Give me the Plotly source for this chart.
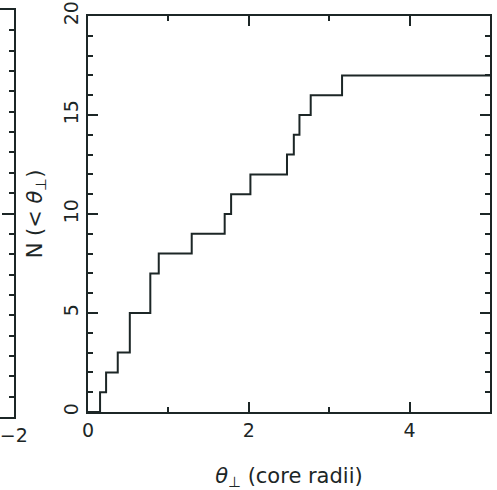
import plotly.graph_objects as go

# cumulative number of objects vs perpendicular separation (core radii)
theta = [0, 0.15, 0.225, 0.37, 0.52, 0.775, 0.88, 1.29, 1.70, 1.78, 2.02,
         2.475, 2.56, 2.63, 2.77, 3.16, 5.0]
count = [0, 1, 2, 3, 5, 7, 8, 9, 10, 11, 12, 13, 14, 15, 16, 17, 17]

x_ticks = [0, 2, 4]
y_ticks = [0, 5, 10, 15, 20]
left_x_ticks = [-2]

W, H = 497, 490
ink = "#1c2626"
font_family = "DejaVu Sans, Liberation Sans, sans-serif"

fig = go.Figure()
fig.add_trace(go.Scatter(x=theta, y=count, mode="lines", line_shape="hv",
                         line=dict(color=ink, width=2), showlegend=False,
                         xaxis="x", yaxis="y", cliponaxis=True))
# partial neighbouring panel (only its right edge is visible)
fig.add_trace(go.Scatter(x=[None], y=[None], xaxis="x2", yaxis="y2",
                         showlegend=False))

def px_x(a, b):
    return [a / W, b / W]

def px_y(top, bottom):
    return [(H - bottom) / H, (H - top) / H]

fig.update_layout(
    width=W, height=H, template="none",
    margin=dict(l=0, r=0, t=0, b=0),
    paper_bgcolor="white", plot_bgcolor="rgba(0,0,0,0)",
    font=dict(family=font_family, color=ink, size=18),
    xaxis=dict(domain=px_x(88, 490), range=[0, 5], anchor="y",
               tickvals=x_ticks, ticks="inside", ticklen=10, tickwidth=2,
               tickcolor=ink, showline=True, linecolor=ink, linewidth=2,
               mirror="ticks", showgrid=False, zeroline=False,
               automargin=False, tickfont=dict(size=19),
               minor=dict(dtick=1, ticks="inside", ticklen=5, tickwidth=2,
                          tickcolor=ink, showgrid=False),
               title=dict(text="<i>θ</i><sub>⊥</sub> (core radii)",
                          font=dict(size=21), standoff=30)),
    yaxis=dict(domain=px_y(16, 412), range=[0, 20], anchor="x",
               tickvals=y_ticks, ticks="inside", ticklen=10, tickwidth=2,
               tickcolor=ink, showline=True, linecolor=ink, linewidth=2,
               mirror="ticks", showgrid=False, zeroline=False,
               automargin=False, tickangle=-90, tickfont=dict(size=19),
               minor=dict(dtick=1, ticks="inside", ticklen=5, tickwidth=2,
                          tickcolor=ink, showgrid=False),
               title=dict(text="N (< <i>θ</i><sub>⊥</sub>)",
                          font=dict(size=21), standoff=12)),
    xaxis2=dict(domain=px_x(0, 14), range=[-2.25, -1.995], anchor="y2",
                tickvals=left_x_ticks, ticktext=["−2"], ticks="",
                showline=True, linecolor=ink, linewidth=2, mirror=True,
                showgrid=False, zeroline=False, automargin=False,
                ticklabeloverflow="allow", tickfont=dict(size=19)),
    yaxis2=dict(domain=px_y(10, 417), range=[0, 20], anchor="x2",
                side="right", tickvals=[10], ticks="inside", ticklen=12,
                tickwidth=2, tickcolor=ink, showticklabels=False,
                showline=True, linecolor=ink, linewidth=2, showgrid=False,
                zeroline=False, automargin=False,
                minor=dict(dtick=1, ticks="inside", ticklen=5, tickwidth=2,
                           tickcolor=ink, showgrid=False)),
)

fig.write_html("out.html")
